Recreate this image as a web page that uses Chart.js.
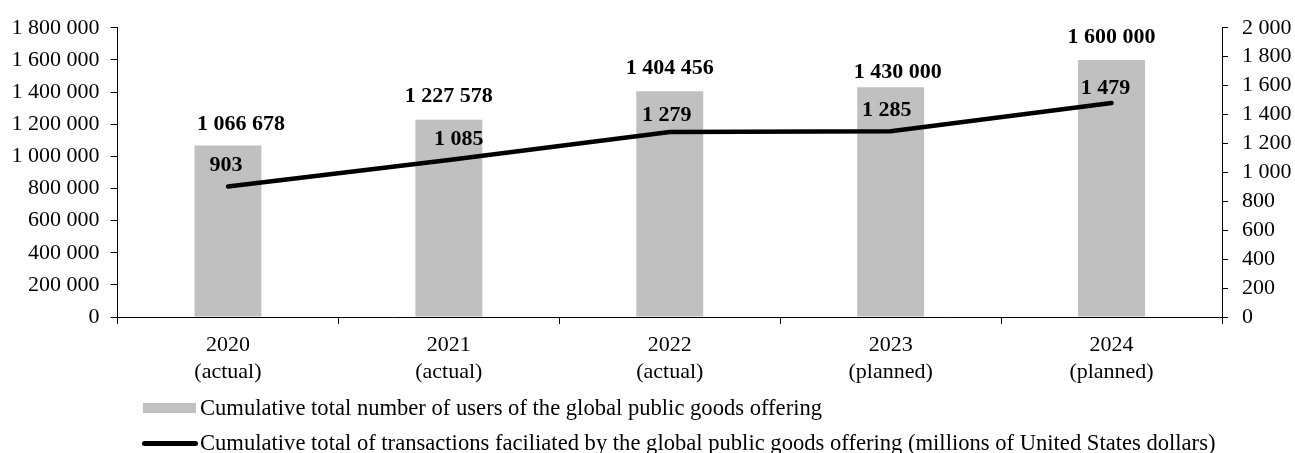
<!DOCTYPE html>
<html>
<head>
<meta charset="utf-8">
<script src="https://cdn.jsdelivr.net/npm/chart.js@4/dist/chart.umd.min.js"></script>
<style>
  body { margin: 0; background: #fff; }
  #wrap { position: relative; width: 1295px; height: 453px; font-family: "Liberation Serif", "Times New Roman", serif; color: #000; }
  #chart { position: absolute; left: 0; top: 0; }
  .swatch { position: absolute; }
  .legend-text { position: absolute; left: 200px; font-size: 22.6px; line-height: 24px; white-space: nowrap; }
</style>
</head>
<body>
<div id="wrap">
  <canvas id="chart" width="1295" height="453"></canvas>
  <div class="swatch" style="left:143px; top:403px; width:53px; height:10px; background:#c0c0c0;"></div>
  <div class="legend-text" style="top:396px;">Cumulative total number of users of the global public goods offering</div>
  <div class="swatch" style="left:142px; top:441px; width:56px; height:5px; background:#000; border-radius:3px;"></div>
  <div class="legend-text" style="top:431px;">Cumulative total of transactions faciliated by the global public goods offering (millions of United States dollars)</div>
</div>
<script>
const years = [
  ["2020", "(actual)"],
  ["2021", "(actual)"],
  ["2022", "(actual)"],
  ["2023", "(planned)"],
  ["2024", "(planned)"]
];
const users = [1066678, 1227578, 1404456, 1430000, 1600000];
const transactions = [903, 1085, 1279, 1285, 1479];

// label nudges as placed in the original (dx, gap above the mark)
const barLabelShift = [[13, 16], [0, 18], [0, 17], [7, 9], [0, 17]];
const lineLabelShift = [[-2, 15], [10, 15], [-3, 11], [-4, 15], [-6, 9]];

const serif = '"Liberation Serif", "Times New Roman", serif';

function spaced(n) {
  return String(n).replace(/\B(?=(\d{3})+(?!\d))/g, " ");
}

const valueLabels = {
  id: "valueLabels",
  afterDatasetsDraw(chart) {
    const ctx = chart.ctx;
    ctx.save();
    ctx.font = "bold 22px " + serif;
    ctx.fillStyle = "#000";
    ctx.textAlign = "center";
    ctx.textBaseline = "alphabetic";
    chart.getDatasetMeta(0).data.forEach((bar, i) => {
      ctx.fillText(spaced(users[i]), bar.x + barLabelShift[i][0], bar.y - barLabelShift[i][1]);
    });
    chart.getDatasetMeta(1).data.forEach((pt, i) => {
      ctx.fillText(spaced(transactions[i]), pt.x + lineLabelShift[i][0], pt.y - lineLabelShift[i][1]);
    });
    ctx.restore();
  }
};

const tickFont = { family: serif, size: 22, lineHeight: 1.25 };

new Chart(document.querySelector("#chart").getContext("2d"), {
  data: {
    labels: years,
    datasets: [
      {
        type: "bar",
        data: users,
        backgroundColor: "#c0c0c0",
        barPercentage: 0.303,
        categoryPercentage: 1,
        yAxisID: "y",
        order: 2
      },
      {
        type: "line",
        data: transactions,
        borderColor: "#000",
        borderWidth: 4.5,
        borderCapStyle: "round",
        pointRadius: 0,
        tension: 0,
        yAxisID: "y1",
        order: 1
      }
    ]
  },
  options: {
    responsive: false,
    animation: false,
    layout: { padding: { top: 22.7, left: 0, right: 0, bottom: 0 } },
    plugins: {
      legend: { display: false },
      tooltip: { enabled: false }
    },
    scales: {
      x: {
        offset: true,
        grid: { offset: true, drawOnChartArea: false, tickLength: 7, color: "#000" },
        border: { color: "#000" },
        ticks: { font: tickFont, color: "#000", padding: 7, maxRotation: 0 },
        afterFit(scale) { scale.height = 136; }
      },
      y: {
        position: "left",
        min: 0,
        max: 1800000,
        grid: { drawOnChartArea: false, tickLength: 7, color: "#000" },
        border: { color: "#000" },
        ticks: { stepSize: 200000, autoSkip: false, font: tickFont, color: "#000", padding: 11, callback: (v) => spaced(v) },
        afterFit(scale) { scale.width = 117.5; }
      },
      y1: {
        position: "right",
        min: 0,
        max: 2000,
        grid: { drawOnChartArea: false, tickLength: 6, color: "#000" },
        border: { color: "#000" },
        ticks: { stepSize: 200, autoSkip: false, font: tickFont, color: "#000", padding: 14, callback: (v) => spaced(v) },
        afterFit(scale) { scale.width = 73; }
      }
    }
  },
  plugins: [valueLabels]
});
</script>
</body>
</html>
